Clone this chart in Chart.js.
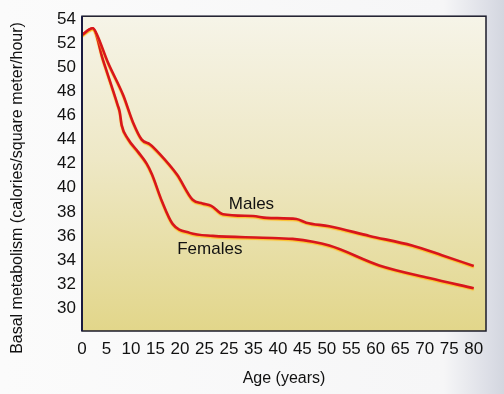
<!DOCTYPE html>
<html>
<head>
<meta charset="utf-8">
<script src="https://cdn.jsdelivr.net/npm/chart.js@4.4.1/dist/chart.umd.min.js"></script>
<style>
  html, body { margin: 0; padding: 0; }
  body {
    width: 504px; height: 394px; overflow: hidden;
    background: linear-gradient(to right, #fbfbfb 0%, #f6f6f7 88%, #dcdee6 97%, #d3d6df 100%);
  }
  #wrap { width: 504px; height: 394px; }
</style>
</head>
<body>
<div id="wrap"><canvas id="bmrChart" width="504" height="394"></canvas></div>
<script>
// values (age in years, basal metabolism)
const maleAges   = [0, 2.2, 2.9, 5.3, 8.4, 10.4, 12.2, 13.9, 15.9, 19.4, 22.6, 24.6, 26.4, 28.8, 34.9, 37.7, 43.8, 45.8, 50.5, 58.7, 67.4, 73.5, 80];
const maleRates  = [52.7, 53.25, 52.85, 50.4, 47.7, 45.45, 44.0, 43.6, 42.8, 41.1, 39.0, 38.7, 38.5, 37.8, 37.65, 37.5, 37.4, 37.1, 36.8, 36.0, 35.2, 34.4, 33.5];
const femaleAges  = [0, 2.2, 4.3, 7.3, 7.7, 8.1, 9.4, 11.4, 13.2, 14.3, 16.3, 18.5, 22, 26.7, 36.9, 43, 50.5, 60.7, 70.9, 80];
const femaleRates = [52.7, 53.25, 50.6, 46.85, 46.3, 45.2, 44.05, 43.0, 42.0, 41.1, 38.9, 37.0, 36.25, 36.0, 35.85, 35.75, 35.2, 33.55, 32.5, 31.65];

const xTicks = [0, 5, 10, 15, 20, 25, 30, 35, 40, 45, 50, 55, 60, 65, 70, 75, 80];
const xTickLabels = ['0', '5', '10', '15', '20', '25', '25', '35', '40', '45', '50', '55', '60', '65', '70', '75', '80'];
const yTicks = [30, 32, 34, 36, 38, 40, 42, 44, 46, 48, 50, 52, 54];

const seriesNames = ['Males', 'Females'];
const seriesLabelPos = [[34.6, 38.6], [26.1, 34.9]]; // where the curve names sit (age, value)

const yTitle = 'Basal metabolism (calories/square meter/hour)';
const xTitle = 'Age (years)';

const FONT = '"Liberation Sans", Arial, Helvetica, sans-serif';
const RED = '#d8161c';

function toPoints(xs, ys) {
    return xs.map((x, i) => ({ x: x, y: ys[i] }));
}

const plotBox = {
    id: 'plotBox',
    beforeDatasetsDraw(chart) {
        const { ctx, chartArea: a } = chart;
        const g = ctx.createLinearGradient(0, a.top, 0, a.bottom);
        g.addColorStop(0, '#f6f4e8');
        g.addColorStop(0.45, '#eee8c6');
        g.addColorStop(1, '#e2d68a');
        ctx.save();
        ctx.fillStyle = g;
        ctx.fillRect(a.left, a.top, a.right - a.left, a.bottom - a.top);
        ctx.restore();
    },
    beforeDatasetDraw(chart) {
        // faint yellow fringe under the red curves
        chart.ctx.shadowColor = 'rgba(255, 190, 30, 0.9)';
        chart.ctx.shadowOffsetY = 1.2;
        chart.ctx.shadowBlur = 1;
    },
    afterDatasetDraw(chart) {
        chart.ctx.shadowColor = 'transparent';
        chart.ctx.shadowOffsetY = 0;
        chart.ctx.shadowBlur = 0;
    },
    afterDraw(chart) {
        const { ctx, chartArea: a, scales } = chart;
        ctx.save();
        ctx.strokeStyle = '#1b1b2a';
        ctx.lineWidth = 1.5;
        ctx.strokeRect(a.left, a.top, a.right - a.left, a.bottom - a.top);
        ctx.lineWidth = 2;
        ctx.strokeStyle = '#1a1a40';
        ctx.beginPath();
        ctx.moveTo(a.left, a.top);
        ctx.lineTo(a.left, a.bottom);
        ctx.stroke();

        ctx.fillStyle = '#111';
        ctx.font = '17px ' + FONT;
        ctx.textAlign = 'center';
        ctx.textBaseline = 'middle';
        seriesNames.forEach((name, i) => {
            const p = seriesLabelPos[i];
            ctx.fillText(name, scales.x.getPixelForValue(p[0]), scales.y.getPixelForValue(p[1]));
        });

        // y axis title
        ctx.font = '16px ' + FONT;
        ctx.translate(18, 188);
        ctx.rotate(-Math.PI / 2);
        ctx.fillText(yTitle, 0, 0);
        ctx.restore();
    }
};

new Chart(document.getElementById('bmrChart'), {
    type: 'line',
    data: {
        datasets: [
            {
                label: seriesNames[0],
                data: toPoints(maleAges, maleRates),
                borderColor: RED,
                borderWidth: 2.6,
                pointRadius: 0,
                fill: false,
                cubicInterpolationMode: 'monotone'
            },
            {
                label: seriesNames[1],
                data: toPoints(femaleAges, femaleRates),
                borderColor: RED,
                borderWidth: 2.6,
                pointRadius: 0,
                fill: false,
                cubicInterpolationMode: 'monotone'
            }
        ]
    },
    options: {
        responsive: false,
        animation: false,
        layout: { padding: { top: 13, right: 18, left: 0, bottom: 0 } },
        plugins: {
            legend: { display: false },
            tooltip: { enabled: false }
        },
        scales: {
            x: {
                type: 'linear',
                min: 0,
                max: 82.5,
                grid: { display: false, drawTicks: false },
                border: { display: false },
                afterBuildTicks: s => { s.ticks = xTicks.map(v => ({ value: v })); },
                afterFit: s => { s.height = 63; },
                ticks: {
                    autoSkip: false,
                    maxRotation: 0,
                    padding: 8,
                    color: '#111',
                    font: { family: FONT, size: 17 },
                    callback: (v) => xTickLabels[xTicks.indexOf(v)]
                },
                title: {
                    display: true,
                    text: xTitle,
                    color: '#111',
                    font: { family: FONT, size: 16 },
                    padding: { top: 0, bottom: 6 }
                }
            },
            y: {
                min: 28.1,
                max: 54.25,
                grid: { display: false, drawTicks: false },
                border: { display: false },
                afterBuildTicks: s => { s.ticks = yTicks.map(v => ({ value: v })); },
                afterFit: s => { s.width = 82; },
                ticks: {
                    padding: 6,
                    color: '#111',
                    font: { family: FONT, size: 17 }
                }
            }
        }
    },
    plugins: [plotBox]
});
</script>
</body>
</html>
